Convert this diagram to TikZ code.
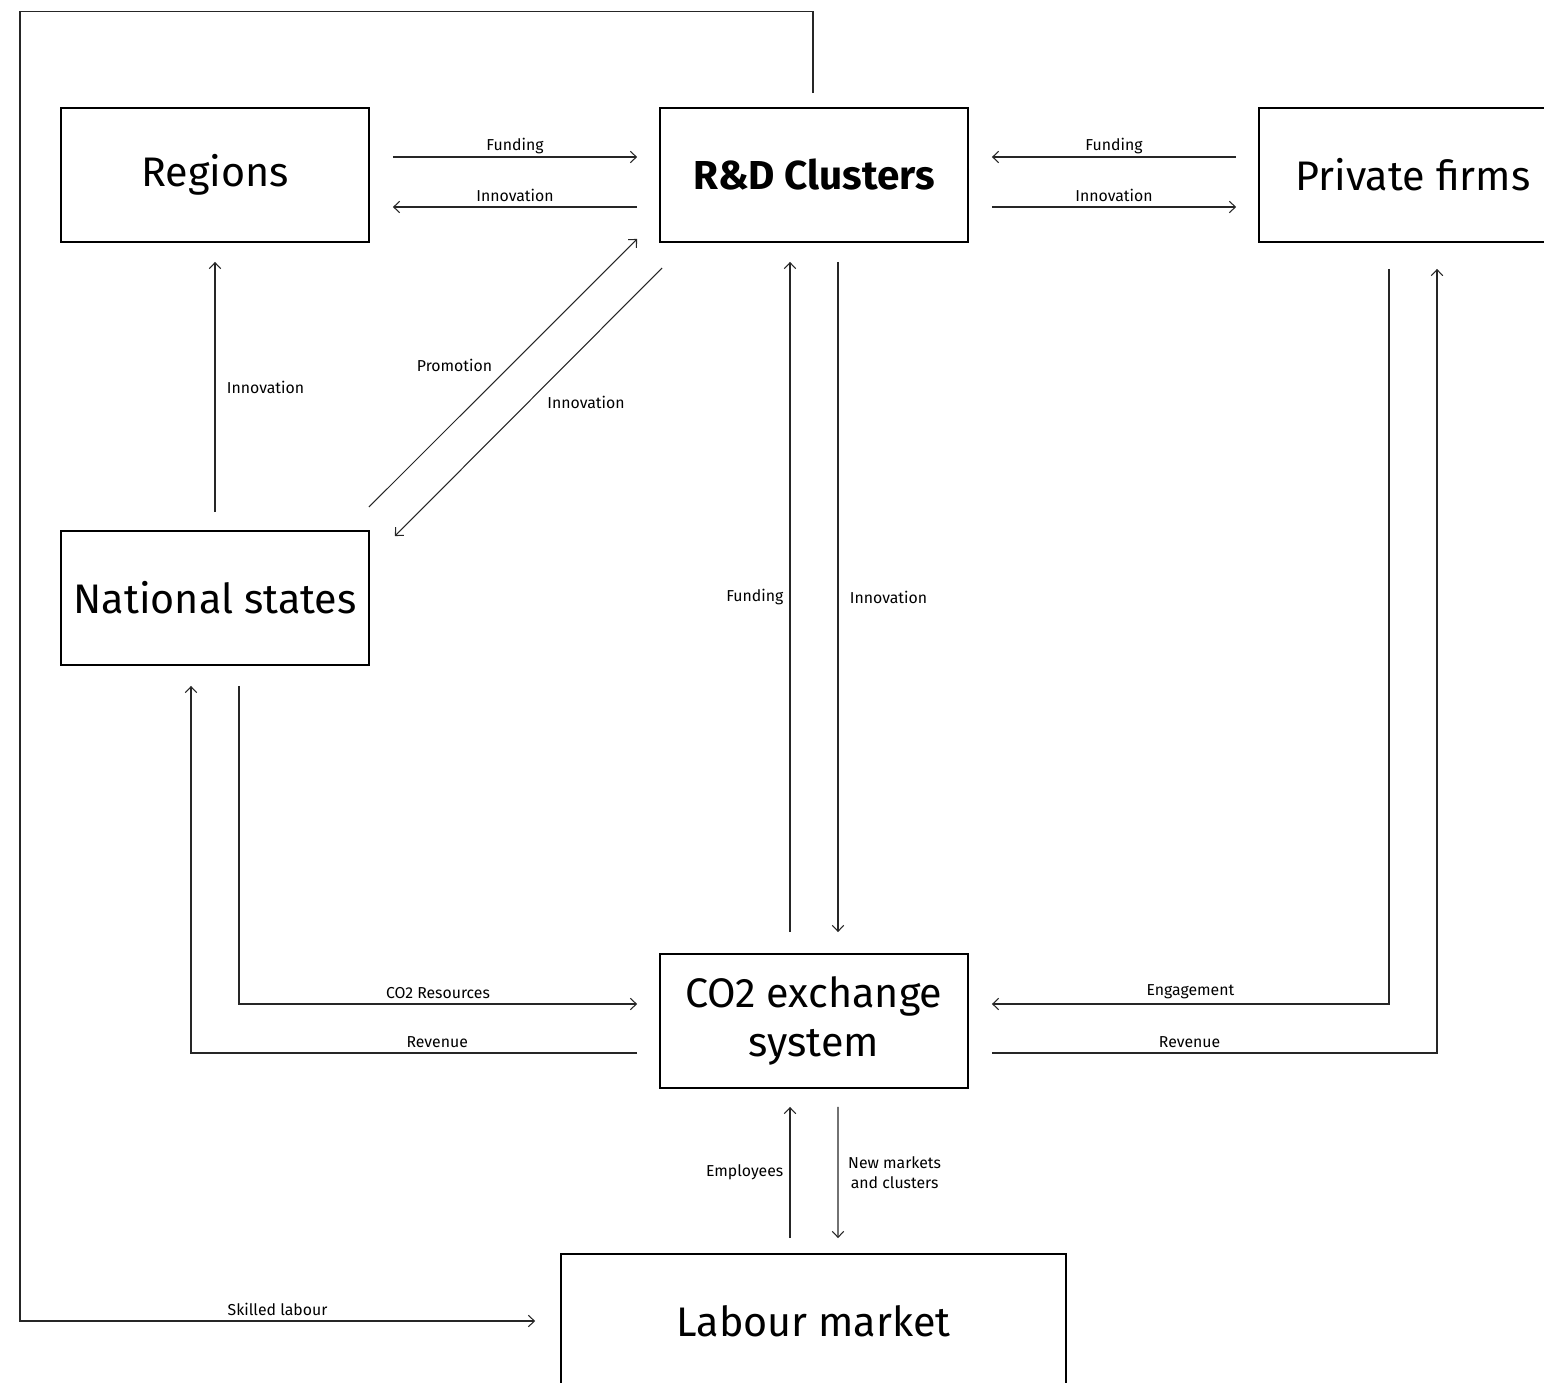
\documentclass[tikz,border=0pt]{standalone}
\usepackage{fontspec}
\setmainfont{Fira Sans}
\usetikzlibrary{arrows.meta,calc}

\tikzset{
  box/.style={rectangle, draw=black, line width=1.1pt, minimum width=6.16cm, minimum height=2.68cm, inner sep=0pt, align=center, font=\fontsize{23.5}{28}\selectfont},
  flow/.style={-{Straight Barb[length=3.4pt, width=6.6pt]}, line width=0.6pt, draw=black!85},
  lbl/.style={font=\fontsize{9}{11}\selectfont, inner sep=2.5pt}
}

\begin{document}
\begin{tikzpicture}[x=0.02cm, y=-0.02cm]
    \useasboundingbox (0,0) rectangle (1544,1382);
    \clip (0,0) rectangle (1544,1382);

    % Boxen
    \node[box] (Regions) at (215,175) {\raisebox{-2pt}{Regions}};
    \node[box, font=\fontsize{23}{28}\selectfont\bfseries] (RD) at (814,175) {R\&D Clusters};
    \node[box] (Firms) at (1413,175) {Private firms};
    \node[box] (States) at (215,598) {National states};
    \node[box] (CO2) at (814,1021) {\raisebox{-3pt}{CO2 exchange}\\\raisebox{-3pt}{system}};
    \node[box, minimum width=10.1cm] (Labour) at (813.5,1321) {Labour market};

    % Regions <-> R&D Clusters
    \draw[flow] ($(Regions.east)+(23,-18)$) -- node[lbl, above, yshift=-1pt] {Funding} ($(RD.west)+(-22,-18)$);
    \draw[flow] ($(RD.west)+(-22,32)$) -- node[lbl, above] {Innovation} ($(Regions.east)+(23,32)$);

    % Private firms <-> R&D Clusters
    \draw[flow] ($(Firms.west)+(-22,-18)$) -- node[lbl, above, yshift=-1pt] {Funding} ($(RD.east)+(23,-18)$);
    \draw[flow] ($(RD.east)+(23,32)$) -- node[lbl, above] {Innovation} ($(Firms.west)+(-22,32)$);

    % National states -> Regions
    \draw[flow] ($(States.north)+(0,-18)$) -- node[lbl, right, xshift=4pt] {Innovation} ($(Regions.south)+(0,19)$);

    % National states <-> R&D Clusters
    \draw[flow] ($(States.north east)+(-1,-23)$) -- node[lbl, pos=0.53, left, xshift=-8pt] {Promotion} ($(RD.south west)+(-22,-4)$);
    \draw[flow] ($(RD.south west)+(3,25)$) -- node[lbl, pos=0.5, right, xshift=8pt] {Innovation} ($(States.north east)+(25,6)$);

    % R&D Clusters <-> CO2 exchange system
    \draw[flow] ($(CO2.north)+(-24,-21)$) -- node[lbl, left, xshift=-1pt] {Funding} ($(RD.south)+(-24,19)$);
    \draw[flow] ($(RD.south)+(24,19)$) -- node[lbl, right, xshift=4pt] {Innovation} ($(CO2.north)+(24,-21)$);

    % National states <-> CO2 exchange system
    \draw[flow] ($(States.south)+(24,20)$) |- node[lbl, pos=0.75, above] {CO2 Resources} ($(CO2.west)+(-22,-17)$);
    \draw[flow] ($(CO2.west)+(-22,32)$) -| node[lbl, pos=0.224, above] {Revenue} ($(States.south)+(-24,20)$);

    % Private firms <-> CO2 exchange system
    \draw[flow] ($(Firms.south)+(-24,26)$) |- node[lbl, pos=0.75, above] {Engagement} ($(CO2.east)+(23,-17)$);
    \draw[flow] ($(CO2.east)+(23,32)$) -| node[lbl, pos=0.222, above] {Revenue} ($(Firms.south)+(24,26)$);

    % Labour market <-> CO2 exchange system
    \draw[flow] ($(Labour.north)+(-23.5,-15)$) -- node[lbl, left, xshift=-1pt] {Employees} ($(CO2.south)+(-24,18)$);
    \draw[flow] ($(CO2.south)+(24,18)$) -- node[lbl, right, xshift=3pt, align=center] {New markets\\and clusters} ($(Labour.north)+(24.5,-15)$);

    % Schleife: R&D Clusters -> Labour market
    \coordinate (loopBL) at (20,1321);
    \draw[flow] ($(RD.north)+(-1,-14)$) -- ++(0,-82) -| (loopBL) -- node[lbl, above] {Skilled labour} ($(Labour.west)+(-25,0)$);
\end{tikzpicture}
\end{document}
